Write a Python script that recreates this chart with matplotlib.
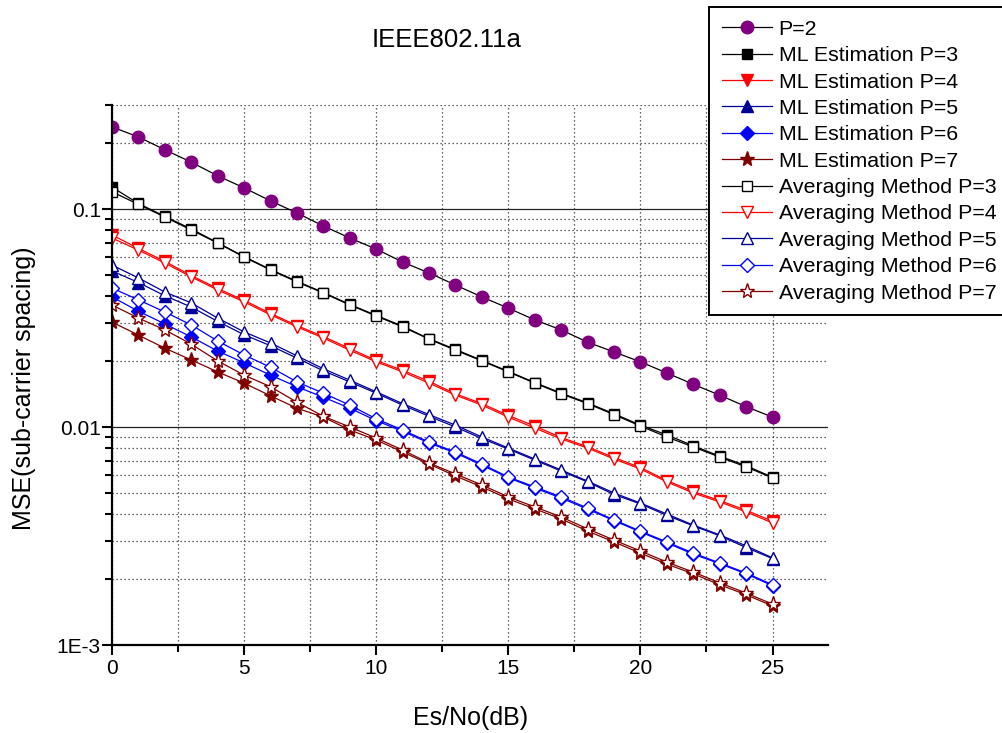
#!/usr/bin/env python3
"""MSE of sub-carrier spacing estimate vs Es/No, IEEE802.11a preamble."""
import matplotlib
matplotlib.use("Agg")
import matplotlib.pyplot as plt
from matplotlib.ticker import FixedLocator, FuncFormatter, LogLocator, MultipleLocator, NullFormatter

plt.rcParams["font.family"] = ["Liberation Sans", "DejaVu Sans"]

snr_db = list(range(0, 26))

p2 = [0.238, 0.214, 0.187, 0.164, 0.142, 0.125, 0.109, 0.0959, 0.0836, 0.0736, 0.0655, 0.0571, 0.0509,
      0.0448, 0.0395, 0.0351, 0.0310, 0.0279, 0.0245, 0.0221, 0.0199, 0.0177, 0.0157, 0.0140, 0.0124, 0.0111]

ml3 = [0.126, 0.106, 0.0925, 0.0810, 0.0700, 0.0605, 0.0528, 0.0466, 0.0414, 0.0365, 0.0325, 0.0290, 0.0254,
       0.0227, 0.0202, 0.0180, 0.0160, 0.0143, 0.0129, 0.0115, 0.0102, 0.0092, 0.0082, 0.00735, 0.00665, 0.00588]
ml4 = [0.0760, 0.0660, 0.0575, 0.0495, 0.0432, 0.0381, 0.0332, 0.0292, 0.0260, 0.0229, 0.0202, 0.0182, 0.0162,
       0.0142, 0.0128, 0.0113, 0.0101, 0.00895, 0.00812, 0.00724, 0.00652, 0.00568, 0.00506, 0.00460, 0.00415, 0.00370]
ml5 = [0.0520, 0.0460, 0.0400, 0.0355, 0.0305, 0.0265, 0.0236, 0.0207, 0.0181, 0.0161, 0.0143, 0.0126, 0.0112,
       0.0100, 0.00885, 0.00792, 0.00705, 0.00628, 0.00560, 0.00490, 0.00444, 0.00393, 0.00352, 0.00317, 0.00280, 0.00249]
ml6 = [0.0395, 0.0340, 0.0297, 0.0259, 0.0223, 0.0197, 0.0173, 0.0153, 0.0137, 0.0122, 0.0107, 0.00955, 0.00845,
       0.00760, 0.00668, 0.00585, 0.00525, 0.00472, 0.00420, 0.00372, 0.00330, 0.00294, 0.00261, 0.00236, 0.00212, 0.00187]
ml7 = [0.0303, 0.0264, 0.0230, 0.0203, 0.0179, 0.0159, 0.0139, 0.0122, 0.0111, 0.00969, 0.00872, 0.00768, 0.00676,
       0.00596, 0.00531, 0.00468, 0.00421, 0.00379, 0.00333, 0.00297, 0.00264, 0.00235, 0.00212, 0.00189, 0.00170, 0.00151]

avg3 = [0.120, 0.105, 0.0919, 0.0801, 0.0698, 0.0602, 0.0525, 0.0463, 0.0412, 0.0363, 0.0323, 0.0288, 0.0253,
        0.0225, 0.0201, 0.0179, 0.0159, 0.0142, 0.0128, 0.0114, 0.0101, 0.0090, 0.0081, 0.00728, 0.00656, 0.00584]
avg4 = [0.0736, 0.0648, 0.0565, 0.0488, 0.0425, 0.0375, 0.0327, 0.0288, 0.0256, 0.0225, 0.0199, 0.0179, 0.0159,
        0.0140, 0.0126, 0.0111, 0.00989, 0.00881, 0.00801, 0.00713, 0.00642, 0.00560, 0.00498, 0.00453, 0.00408, 0.00363]
avg5 = [0.0553, 0.0483, 0.0416, 0.0371, 0.0316, 0.0273, 0.0243, 0.0212, 0.0185, 0.0164, 0.0145, 0.0128, 0.0114,
        0.0102, 0.0090, 0.00801, 0.00713, 0.00635, 0.00565, 0.00498, 0.00448, 0.00399, 0.00355, 0.00320, 0.00285, 0.00251]
avg6 = [0.0434, 0.0383, 0.0337, 0.0294, 0.0248, 0.0214, 0.0188, 0.0161, 0.0143, 0.0126, 0.0109, 0.00969, 0.00853,
        0.00768, 0.00676, 0.00590, 0.00531, 0.00478, 0.00425, 0.00375, 0.00333, 0.00297, 0.00264, 0.00238, 0.00214, 0.00189]
avg7 = [0.0363, 0.0316, 0.0279, 0.0240, 0.0201, 0.0173, 0.0153, 0.0130, 0.0112, 0.0100, 0.00890, 0.00784, 0.00684,
        0.00609, 0.00542, 0.00478, 0.00430, 0.00387, 0.00341, 0.00303, 0.00270, 0.00240, 0.00216, 0.00193, 0.00173, 0.00154]

y_tick_vals = [0.001, 0.01, 0.1]
y_tick_labels = ["1E-3", "0.01", "0.1"]

NAVY = "#000099"
WINE = "#800000"

# (label, values, colour, marker, markersize, filled)
series = [
    ("P=2", p2, "#800080", "o", 9.0, True),
    ("ML Estimation P=3", ml3, "black", "s", 7.4, True),
    ("ML Estimation P=4", ml4, "red", "v", 9.0, True),
    ("ML Estimation P=5", ml5, NAVY, "^", 9.0, True),
    ("ML Estimation P=6", ml6, "blue", "D", 6.8, True),
    ("ML Estimation P=7", ml7, WINE, "*", 11.0, True),
    ("Averaging Method P=3", avg3, "black", "s", 7.4, False),
    ("Averaging Method P=4", avg4, "red", "v", 9.0, False),
    ("Averaging Method P=5", avg5, NAVY, "^", 9.0, False),
    ("Averaging Method P=6", avg6, "blue", "D", 6.8, False),
    ("Averaging Method P=7", avg7, WINE, "*", 11.0, False),
]


def main() -> None:
    fig = plt.figure(figsize=(10.02, 7.33), dpi=100)
    ax = fig.add_axes([112 / 1002, 88 / 733, 716 / 1002, 540 / 733])

    for label, vals, color, marker, ms, filled in series:
        line_color = "black" if label == "P=2" else color
        ax.plot(snr_db, vals, color=line_color, lw=0.9, marker=marker, ms=ms,
                mfc=color if filled else "white", mec=color, mew=1.0, label=label)

    ax.set_yscale("log")
    ax.set_xlim(0, 27.1)
    ax.set_ylim(1e-3, 0.3)

    ax.xaxis.set_major_locator(MultipleLocator(5))
    ax.xaxis.set_minor_locator(MultipleLocator(2.5))
    ax.yaxis.set_major_locator(FixedLocator(y_tick_vals))
    ax.yaxis.set_major_formatter(FuncFormatter(lambda v, _: dict(zip(y_tick_vals, y_tick_labels)).get(v, "")))
    ax.yaxis.set_minor_locator(LogLocator(base=10, subs=range(2, 10)))
    ax.yaxis.set_minor_formatter(NullFormatter())

    ax.grid(axis="y", which="major", color="#222222", lw=0.9, ls="-")
    ax.grid(axis="y", which="minor", color="#333333", lw=0.9, ls=(0, (1, 2.2)))
    ax.grid(axis="x", which="both", color="#333333", lw=0.9, ls=(0, (1, 2.2)))
    ax.set_axisbelow(True)

    for side in ("top", "right"):
        ax.spines[side].set_visible(False)
    for side in ("left", "bottom"):
        ax.spines[side].set_linewidth(1.6)

    ax.tick_params(which="major", direction="out", length=7, width=1.5, labelsize=15, pad=3)
    ax.tick_params(which="minor", direction="out", length=5, width=1.5)
    ax.tick_params(axis="y", which="major", pad=1)

    fig.text(447 / 1002, 1 - 47 / 733, "IEEE802.11a", ha="center", va="baseline", fontsize=18.5)
    fig.text(24.5 / 1002, 1 - 388 / 733, "MSE(sub-carrier spacing)", rotation=90,
             ha="center", va="center", fontsize=18)
    fig.text(471 / 1002, 1 - 718 / 733, "Es/No(dB)", ha="center", va="center", fontsize=18)

    leg = fig.legend(loc="upper left", bbox_to_anchor=(709 / 1002, 1 - 7 / 733), fontsize=15.4,
                     frameon=True, fancybox=False, borderpad=0.6, labelspacing=0.345,
                     handlelength=2.35, handletextpad=0.3, borderaxespad=0.0)
    frame = leg.get_frame()
    frame.set_edgecolor("black")
    frame.set_linewidth(1.4)
    frame.set_alpha(1.0)

    fig.savefig("out.png", dpi=100)


if __name__ == "__main__":
    main()
